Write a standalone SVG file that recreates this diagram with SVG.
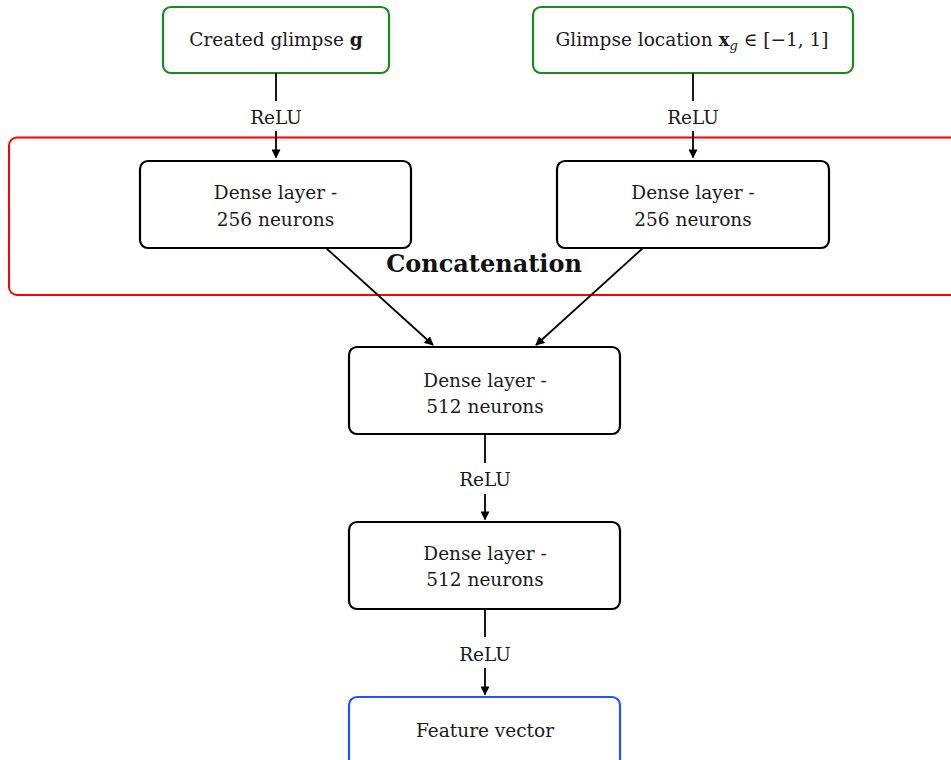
<svg xmlns="http://www.w3.org/2000/svg" width="951" height="760" viewBox="0 0 951 760">
  <style>
    .box { fill: #ffffff; stroke: #000000; stroke-width: 2.2; }
    .input { fill: #ffffff; stroke: #1a8a1a; stroke-width: 2.2; }
    .output { fill: #ffffff; stroke: #1f55ff; stroke-width: 2.2; }
    .group { fill: none; stroke: #ff0000; stroke-width: 2; }
    .label { font-family: "DejaVu Serif", "Liberation Serif", serif; font-size: 18.5px; fill: #1a1a1a; text-anchor: middle; }
    .title { font-family: "DejaVu Serif", "Liberation Serif", serif; font-size: 24px; font-weight: bold; fill: #111111; text-anchor: middle; }
    .edge { fill: none; stroke: #000000; stroke-width: 1.8; }
  </style>
  <defs>
    <marker id="arrow" viewBox="0 0 10 10" refX="9" refY="5" markerWidth="9" markerHeight="9" markerUnits="userSpaceOnUse" orient="auto">
      <path d="M0,0 L10,5 L0,10 Z" fill="#000000"/>
    </marker>
  </defs>

  <!-- concatenation frame -->
  <g id="concat-group">
    <rect class="group" x="9" y="137.5" width="960" height="157.5" rx="8"/>
    <text class="title" x="484" y="272">Concatenation</text>
  </g>

  <!-- inputs -->
  <g id="glimpse">
    <rect class="input" x="163" y="7" width="226" height="66" rx="8"/>
    <text class="label" x="276" y="46">Created glimpse <tspan font-weight="bold">g</tspan></text>
  </g>
  <g id="location">
    <rect class="input" x="533" y="7" width="320" height="66" rx="8"/>
    <text class="label" x="692" y="46">Glimpse location <tspan font-weight="bold">x</tspan><tspan font-style="italic" font-size="13px" dy="4">g</tspan><tspan dy="-4"> ∈ [−1, 1]</tspan></text>
  </g>

  <!-- dense layers -->
  <g id="dense-g">
    <rect class="box" x="140" y="161" width="271" height="87" rx="8"/>
    <text class="label" x="275.5" y="199">Dense layer -</text>
    <text class="label" x="275.5" y="226">256 neurons</text>
  </g>
  <g id="dense-l">
    <rect class="box" x="557" y="161" width="272" height="87" rx="8"/>
    <text class="label" x="693" y="199">Dense layer -</text>
    <text class="label" x="693" y="226">256 neurons</text>
  </g>
  <g id="dense-512a">
    <rect class="box" x="349" y="347" width="271" height="87" rx="8"/>
    <text class="label" x="485" y="386.5">Dense layer -</text>
    <text class="label" x="485" y="413">512 neurons</text>
  </g>
  <g id="dense-512b">
    <rect class="box" x="349" y="522" width="271" height="87" rx="8"/>
    <text class="label" x="485" y="559.5">Dense layer -</text>
    <text class="label" x="485" y="586">512 neurons</text>
  </g>

  <!-- output -->
  <g id="feature">
    <rect class="output" x="349" y="697" width="271" height="70" rx="8"/>
    <text class="label" x="485" y="736.5">Feature vector</text>
  </g>

  <!-- connectors -->
  <g id="connectors">
    <line class="edge" x1="276" y1="73" x2="276" y2="101"/>
    <text class="label" x="276" y="124">ReLU</text>
    <line class="edge" x1="276" y1="131" x2="276" y2="157.5" marker-end="url(#arrow)"/>

    <line class="edge" x1="693" y1="73" x2="693" y2="101"/>
    <text class="label" x="693" y="124">ReLU</text>
    <line class="edge" x1="693" y1="131" x2="693" y2="157.5" marker-end="url(#arrow)"/>

    <line class="edge" x1="326" y1="248" x2="433" y2="345" marker-end="url(#arrow)"/>
    <line class="edge" x1="643" y1="248" x2="536" y2="345" marker-end="url(#arrow)"/>

    <line class="edge" x1="485" y1="434" x2="485" y2="463"/>
    <text class="label" x="485" y="486">ReLU</text>
    <line class="edge" x1="485" y1="494" x2="485" y2="519.5" marker-end="url(#arrow)"/>

    <line class="edge" x1="485" y1="609" x2="485" y2="637"/>
    <text class="label" x="485" y="661">ReLU</text>
    <line class="edge" x1="485" y1="668" x2="485" y2="694.5" marker-end="url(#arrow)"/>
  </g>
</svg>
